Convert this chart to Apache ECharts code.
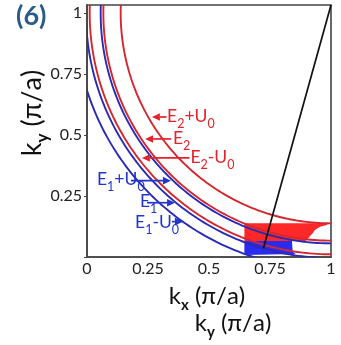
<!DOCTYPE html>
<html><head><meta charset="utf-8">
<script src="https://cdn.jsdelivr.net/npm/echarts@6/dist/echarts.min.js"></script>
<style>html,body{margin:0;padding:0;background:#fff}#c{width:341px;height:345px}</style>
</head><body><div id="c"></div>
<script>
// ---- data ----
const xTicks = [0, 0.25, 0.5, 0.75, 1];
const xTickLabels = ['0', '0.25', '0.5', '0.75', '1'];
const yTicks = [0.25, 0.5, 0.75, 1];
const yTickLabels = ['0.25', '0.5', '0.75', '1'];

const curveNames = ['E2+U0', 'E2', 'E2-U0', 'E1+U0', 'E1', 'E1-U0'];
const curveRadius = [0.862, 0.933, 0.989, 0.944, 1.004, 1.049]; // iso-energy arcs around (1,1)
const curveBand = ['red', 'red', 'red', 'blue', 'blue', 'blue'];
const arcCenter = [1, 1];

const redFillX = [0.645, 0.645, 0.99, 0.982, 0.955, 0.934, 0.925, 0.914, 0.907, 0.895];
const redFillY = [0.066, 0.138, 0.138, 0.131, 0.124, 0.111, 0.097, 0.086, 0.077, 0.066];
const blueFillX = [0.645, 0.645, 0.84, 0.843, 0.855, 0.645];
const blueFillY = [0.008, 0.066, 0.066, 0.022, 0.012, 0.008];

const cutLineX = [0.723, 1];
const cutLineY = [0.036, 1.033];

// ---- annotation layout (positions, not data) ----
const labelRich = [
  '{m|E}{s|2}{m|+U}{s|0}', '{m|E}{s|2}', '{m|E}{s|2}{m|-U}{s|0}',
  '{m|E}{s|1}{m|+U}{s|0}', '{m|E}{s|1}', '{m|E}{s|1}{m|-U}{s|0}'
];
const labelPos = [[0.328, 0.574], [0.352, 0.482], [0.424, 0.404], [0.041, 0.313], [0.217, 0.224], [0.197, 0.139]];
const arrowFrom = [[0.326, 0.574], [0.345, 0.484], [0.42, 0.406], [0.18, 0.313], [0.246, 0.2225], [0.348, 0.145]];
const arrowTo = [[0.266, 0.574], [0.238, 0.484], [0.225, 0.406], [0.344, 0.313], [0.361, 0.2225], [0.393, 0.145]];

const COL = {
  redLine: '#d3282e', blueLine: '#2a2ab4', redFill: '#ff2828', blueFill: '#2b2bf0',
  redText: '#e3222a', blueText: '#2336c9', frame: '#444', tick: '#222'
};
const FONT = 'Lato, "Open Sans", sans-serif';

const chart = echarts.init(document.getElementById('c'), null, {renderer: 'canvas'});

function fmt(ticks, labels) {
  return function (v) {
    for (let i = 0; i < ticks.length; i++) if (Math.abs(ticks[i] - v) < 1e-6) return labels[i];
    return '';
  };
}

function renderCurve(params, api) {
  const i = params.dataIndex;
  const r = curveRadius[i];
  const pts = [];
  const n = 120;
  for (let k = 0; k <= n; k++) {
    const t = -0.2 + (Math.PI / 2 + 0.2) * k / n;
    pts.push(api.coord([arcCenter[0] - r * Math.cos(t), arcCenter[1] - r * Math.sin(t)]));
  }
  return {
    type: 'polyline', shape: {points: pts},
    style: {stroke: curveBand[i] === 'red' ? COL.redLine : COL.blueLine, fill: null, lineWidth: 1.9}
  };
}

function renderFill(params, api) {
  const xs = params.dataIndex === 0 ? redFillX : blueFillX;
  const ys = params.dataIndex === 0 ? redFillY : blueFillY;
  const pts = xs.map((x, k) => api.coord([x, ys[k]]));
  return {type: 'polygon', shape: {points: pts},
    style: {fill: params.dataIndex === 0 ? COL.redFill : COL.blueFill, stroke: null}};
}

function renderLabel(params, api) {
  const i = params.dataIndex;
  const red = curveBand[i] === 'red';
  const color = red ? COL.redText : COL.blueText;
  const a = api.coord(arrowFrom[i]);
  const b = api.coord(arrowTo[i]);
  const dir = b[0] > a[0] ? 1 : -1;
  const L = 8, W = 3.8;
  const base = [b[0] - dir * L, b[1]];
  const p = api.coord(labelPos[i]);
  return {
    type: 'group',
    children: [
      {type: 'line', shape: {x1: a[0], y1: a[1], x2: base[0], y2: base[1]}, style: {stroke: color, lineWidth: 1.7}},
      {type: 'polygon', shape: {points: [[b[0], b[1]], [base[0], b[1] - W], [base[0], b[1] + W]]}, style: {fill: color}},
      {type: 'text', x: p[0], y: p[1] - 10,
        style: {text: labelRich[i], align: 'left', verticalAlign: 'top', fill: color,
          rich: {
            m: {fontSize: 17.5, lineHeight: 20, verticalAlign: 'top', fill: color, fontFamily: FONT},
            s: {fontSize: 12.5, lineHeight: 12, padding: [10, 0, 0, 0], verticalAlign: 'top', fill: color, fontFamily: FONT}
          }}}
    ]
  };
}

function axisName(x, y, sub, size, rot) {
  return {type: 'text', x: x, y: y, rotation: rot || 0,
    style: {text: '{k|k}{s|' + sub + '}{k| (π/a)}', align: 'center', verticalAlign: 'middle',
      rich: {k: {fontSize: size, lineHeight: size + 3, verticalAlign: 'top', fontFamily: FONT, fill: '#111'},
             s: {fontSize: Math.round(size * 0.62), lineHeight: Math.round(size * 0.62), padding: [Math.round(size * 0.55), 0, 0, 0],
                 fontWeight: 'bold', verticalAlign: 'top', fontFamily: FONT, fill: '#111'}}}};
}

const option = {
  animation: false,
  backgroundColor: '#fff',
  grid: {left: 87, right: 10, top: 5, bottom: 88, show: true, borderColor: COL.frame, borderWidth: 1.6, backgroundColor: 'transparent'},
  xAxis: {
    type: 'value', min: 0, max: 1, interval: 0.25,
    axisLine: {show: true, lineStyle: {color: COL.frame, width: 1.6}},
    axisTick: {show: false}, splitLine: {show: false},
    axisLabel: {formatter: fmt(xTicks, xTickLabels), color: COL.tick, fontSize: 16, fontFamily: FONT, margin: 4, showMinLabel: true, showMaxLabel: true}
  },
  yAxis: {
    type: 'value', min: 0, max: 1.033, interval: 0.25,
    axisLine: {show: true, lineStyle: {color: COL.frame, width: 1.6}},
    axisTick: {show: true, length: 3, lineStyle: {color: COL.frame}}, splitLine: {show: false},
    axisLabel: {formatter: fmt(yTicks, yTickLabels), color: COL.tick, fontSize: 16, fontFamily: FONT, margin: 5, showMaxLabel: false}
  },
  graphic: [
    {type: 'text', left: 16, top: 3, style: {text: '(6)', font: 'bold 27px ' + FONT, fill: '#2b5b8c'}},
    axisName(207, 298, 'x', 24),
    axisName(233, 325, 'y', 24),
    axisName(34, 113, 'y', 27, Math.PI / 2)
  ],
  series: [
    {type: 'custom', name: 'fills', renderItem: renderFill, clip: true, data: [[0, 0], [1, 0]], z: 2},
    {type: 'custom', name: 'curves', renderItem: renderCurve, clip: true,
      data: curveRadius.map((r, i) => [r, i]), z: 3},
    {type: 'line', name: 'cut', data: cutLineX.map((x, i) => [x, cutLineY[i]]), symbol: 'none',
      lineStyle: {color: '#111', width: 1.7}, z: 4, clip: false},
    {type: 'custom', name: 'labels', renderItem: renderLabel, clip: false,
      data: curveNames.map((n, i) => [i, 0]), z: 5}
  ]
};
chart.setOption(option);
</script>
</body></html>
